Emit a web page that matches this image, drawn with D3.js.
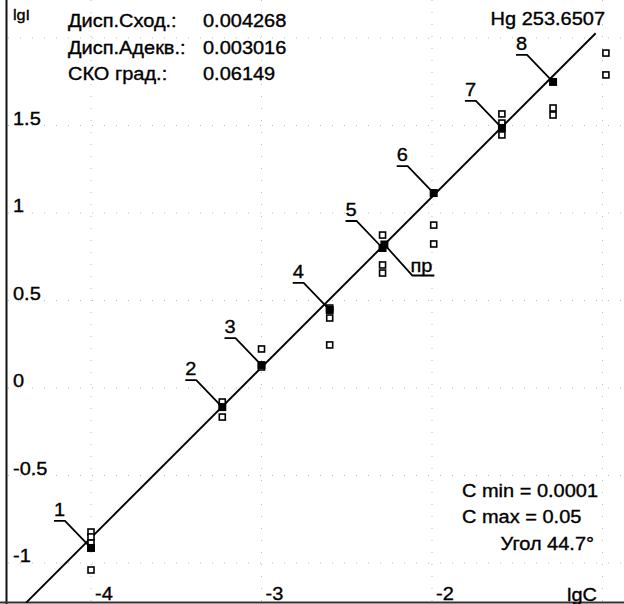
<!DOCTYPE html>
<html>
<head>
<meta charset="utf-8">
<script src="https://cdn.jsdelivr.net/npm/d3@7"></script>
<style>
  body { margin: 0; background: #fff; }
  svg { display: block; }
  text { font-family: "Liberation Sans", Arial, sans-serif; fill: #000; stroke: #000; stroke-width: 0.35px; }
</style>
</head>
<body>
<script>
// градуировочный график Hg 253.6507

var stdNames = ['1', '2', '3', '4', '5', '6', '7', '8'];
var stdLgC = [-4.0, -3.23, -3.0, -2.60, -2.29, -1.99, -1.59, -1.29];
var stdMean = [-0.914, -0.109, 0.131, 0.446, 0.80, 1.114, 1.486, 1.749];
var stdReps = [
    [-0.823, -0.851, -0.886, -1.04]
    , [-0.08, -0.166]
    , [0.223, 0.12]
    , [0.457, 0.40, 0.246]
    , [0.874, 0.703, 0.657]
    , [0.931, 0.823]
    , [1.566, 1.514, 1.446]
    , [1.60, 1.56]
];
var extraLgC = -0.98;
var extraLgI = [1.914, 1.789];

var regSlope = 0.974;
var regIntercept = 3.04;
var regRange = [-4.38, -1.04];

var sampleName = 'пр';
var sampleLgI = 0.82;

var xGrid = [-4, -3, -2, -1];
var xTicks = [-4, -3, -2];
var yGrid = [-1, -0.5, 0, 0.5, 1, 1.5, 2];
var yTicks = [-1, -0.5, 0, 0.5, 1, 1.5];

var title = 'Hg 253.6507';
var statNames = ['Дисп.Сход.:', 'Дисп.Адекв.:', 'СКО град.:'];
var statValues = ['0.004268', '0.003016', '0.06149'];
var infoLines = ['C min = 0.0001', 'C max = 0.05', 'Угол 44.7°'];

var W = 624, H = 604;
var fs = 18.5, sx = 1.08;

var x = d3.scaleLinear().domain([-4, -1]).range([91, 602.5]);
var y = d3.scaleLinear().domain([-1, 1.5]).range([563, 125.5]);

var svg = d3.select('body').append('svg')
    .attr('width', W)
    .attr('height', H);

function label(txt, px, py, anchor, size) {
	return svg.append('text')
		.attr('transform', 'translate(' + px + ',' + py + ') scale(' + sx + ',1)')
		.attr('text-anchor', anchor || 'start')
		.style('font-size', (size || fs) + 'px')
		.text(txt);
}

// dotted grid (barely visible on the original)
svg.append('g').selectAll('line')
	.data(xGrid)
	.enter()
	.append('line')
	.attr('x1', function(d) {return x(d);})
	.attr('x2', function(d) {return x(d);})
	.attr('y1', 0)
	.attr('y2', H)
	.style('stroke', '#bbb')
	.style('stroke-width', 1)
	.style('stroke-dasharray', '1,11');

svg.append('g').selectAll('line')
	.data(yGrid)
	.enter()
	.append('line')
	.attr('x1', 8)
	.attr('x2', W)
	.attr('y1', function(d) {return y(d);})
	.attr('y2', function(d) {return y(d);})
	.style('stroke', '#bbb')
	.style('stroke-width', 1)
	.style('stroke-dasharray', '1,11');

// axes
svg.append('line')
	.attr('x1', 6.5).attr('x2', 6.5).attr('y1', 0).attr('y2', H)
	.style('stroke', '#111').style('stroke-width', 2);
svg.append('line')
	.attr('x1', 0).attr('x2', W).attr('y1', 602.5).attr('y2', 602.5)
	.style('stroke', '#333').style('stroke-width', 2);

yTicks.forEach(function(v) {
	label(String(v), 13, y(v) - 1);
});
xTicks.forEach(function(v) {
	label(String(v), x(v) + 4, 600);
});
label('lgI', 13, 20, 'start', 15);
label('lgC', 567, 601);

// regression line
var regLine = d3.line()
	.x(function(d) {return x(d);})
	.y(function(d) {return y(regIntercept + regSlope * d);});
svg.append('path')
	.attr('d', regLine(regRange))
	.style('fill', 'none')
	.style('stroke', '#000')
	.style('stroke-width', 1.9);

// leaders and labels of standards
var stds = stdNames.map(function(n, i) {
	return {name: n, c: stdLgC[i], m: stdMean[i], reps: stdReps[i]};
});

svg.append('g').selectAll('path')
	.data(stds)
	.enter()
	.append('path')
	.attr('d', function(d) {
		var px = x(d.c), py = y(d.m);
		return 'M' + (px - 37) + ' ' + (py - 27)
			+ 'L' + (px - 26) + ' ' + (py - 27)
			+ 'L' + (px - 2) + ' ' + (py - 2);
	})
	.style('fill', 'none')
	.style('stroke', '#000')
	.style('stroke-width', 1.8);

stds.forEach(function(d) {
	label(d.name, x(d.c) - 37, y(d.m) - 32);
});

// sample
var sampleC = (sampleLgI - regIntercept) / regSlope;
var spx = x(sampleC), spy = y(sampleLgI);
svg.append('path')
	.attr('d', 'M' + spx + ' ' + spy
		+ 'L' + (spx + 28) + ' ' + (spy + 31)
		+ 'L' + (spx + 50) + ' ' + (spy + 31))
	.style('fill', 'none')
	.style('stroke', '#000')
	.style('stroke-width', 1.8);
label(sampleName, spx + 26, spy + 27);

// replicate measurements
var reps = [];
stds.forEach(function(d) {
	d.reps.forEach(function(v) {reps.push({c: d.c, v: v});});
});
extraLgI.forEach(function(v) {reps.push({c: extraLgC, v: v});});

svg.append('g').selectAll('rect')
	.data(reps)
	.enter()
	.append('rect')
	.attr('x', function(d) {return x(d.c) - 3;})
	.attr('y', function(d) {return y(d.v) - 3;})
	.attr('width', 6)
	.attr('height', 6)
	.style('fill', '#fff')
	.style('stroke', '#000')
	.style('stroke-width', 1.6);

// means
svg.append('g').selectAll('rect')
	.data(stds.concat([{c: sampleC, m: sampleLgI}]))
	.enter()
	.append('rect')
	.attr('x', function(d) {return x(d.c) - 4;})
	.attr('y', function(d) {return y(d.m) - 4;})
	.attr('width', 8)
	.attr('height', 8)
	.style('fill', '#000');

// texts
label(title, 605, 25, 'end');
statNames.forEach(function(n, i) {
	label(n, 68, 27 + i * 26.5);
	label(statValues[i], 203, 27 + i * 26.5);
});
label(infoLines[0], 462, 497);
label(infoLines[1], 462, 523);
label(infoLines[2], 594, 550, 'end');
</script>
</body>
</html>
